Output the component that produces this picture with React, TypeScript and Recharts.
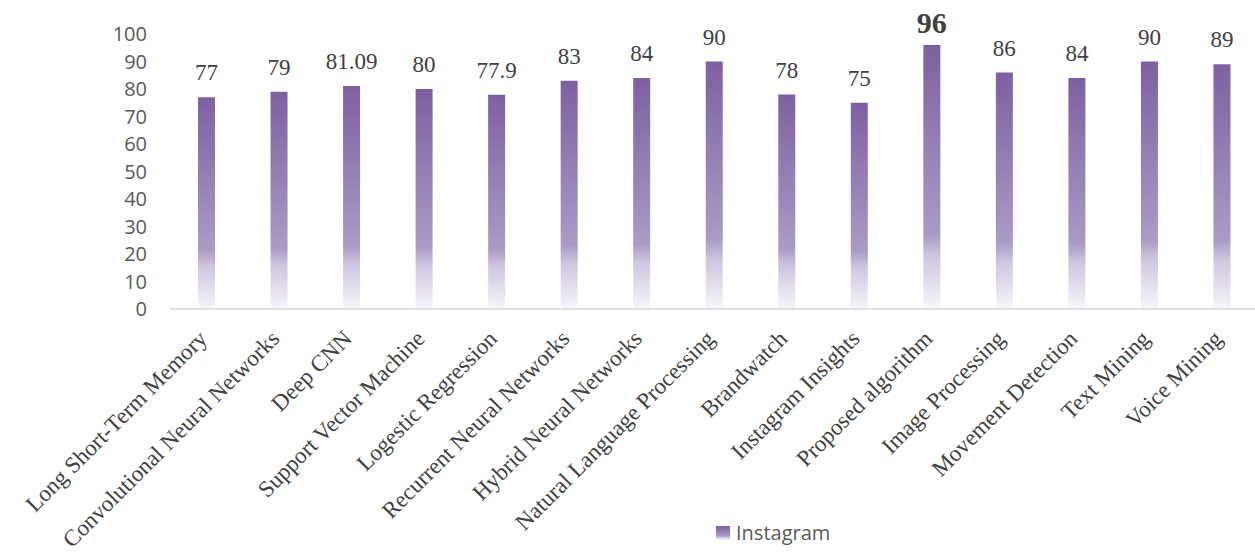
import React from 'react';
import { BarChart, Bar, XAxis, YAxis, LabelList, Legend } from 'recharts';

const categories = [
  'Long Short-Term Memory',
  'Convolutional Neural Networks',
  'Deep CNN',
  'Support Vector Machine',
  'Logestic Regression',
  'Recurrent Neural Networks',
  'Hybrid Neural Networks',
  'Natural Language Processing',
  'Brandwatch',
  'Instagram Insights',
  'Proposed algorithm',
  'Image Processing',
  'Movement Detection',
  'Text Mining',
  'Voice Mining',
];
const instagramValues = [77, 79, 81.09, 80, 77.9, 83, 84, 90, 78, 75, 96, 86, 84, 90, 89];
const yTicks = [0, 10, 20, 30, 40, 50, 60, 70, 80, 90, 100];
const seriesName = 'Instagram';

const data = categories.map((name, i) => ({ name, value: instagramValues[i] }));
const maxValue = Math.max(...instagramValues);

const SERIF = "'Liberation Serif', 'Times New Roman', serif";
const SANS = "'Open Sans', sans-serif";

const XTick = (props: any) => {
  const { x, y, payload } = props;
  const ax = x + 2;
  const ay = y + 31;
  return (
    <text
      x={ax}
      y={ay}
      transform={`rotate(-45, ${ax}, ${ay})`}
      textAnchor="end"
      style={{ fontFamily: SERIF, fontSize: 23 }}
      fill="#404040"
    >
      {payload.value}
    </text>
  );
};

const ValueLabel = (props: any) => {
  const { x, y, width, value } = props;
  const hi = Number(value) === maxValue;
  return (
    <text
      x={Number(x) + Number(width) / 2}
      y={Number(y) - (hi ? 12 : 17)}
      textAnchor="middle"
      style={{ fontFamily: SERIF, fontSize: hi ? 30 : 23, fontWeight: hi ? 'bold' : 'normal' }}
      fill="#404040"
    >
      {value}
    </text>
  );
};

const LegendContent = () => (
  <div style={{ display: 'flex', alignItems: 'center', fontFamily: SANS, fontSize: 20, color: '#595959', lineHeight: '24px' }}>
    <svg width={14} height={14} style={{ marginRight: 6 }}>
      <rect x={0} y={0} width={14} height={14} fill="url(#instaGrad)" />
    </svg>
    <span>{seriesName}</span>
  </div>
);

export default function App() {
  return (
    <div style={{ position: 'fixed', left: 0, top: 0, width: 1255, height: 553, overflow: 'hidden', background: '#fff' }}>
      <BarChart width={1258} height={553} data={data} margin={{ top: 34, right: 0, bottom: 0, left: 0 }}>
        <defs>
          <linearGradient id="instaGrad" x1="0" y1="0" x2="0" y2="1">
            <stop offset="0" stopColor="#7d60a1" />
            <stop offset="0.72" stopColor="#aa9bc6" />
            <stop offset="0.8" stopColor="#cfc6df" />
            <stop offset="1" stopColor="#f7f5fa" />
          </linearGradient>
        </defs>
        <XAxis
          dataKey="name"
          interval={0}
          height={244}
          tickLine={false}
          tickSize={0}
          tickMargin={0}
          axisLine={{ stroke: '#d9d9d9', strokeWidth: 1.5 }}
          tick={<XTick />}
        />
        <YAxis
          domain={[0, 100]}
          ticks={yTicks}
          interval={0}
          width={170}
          axisLine={false}
          tickLine={false}
          tickSize={0}
          tickMargin={23}
          tick={{ fontFamily: SANS, fontSize: 20, fill: '#595959' }}
        />
        <Legend
          verticalAlign="middle"
          align="center"
          layout="horizontal"
          content={<LegendContent />}
          wrapperStyle={{ top: 521, left: 716, width: 'auto' }}
        />
        <Bar dataKey="value" name={seriesName} fill="url(#instaGrad)" barSize={17} isAnimationActive={false}>
          <LabelList dataKey="value" content={<ValueLabel />} />
        </Bar>
      </BarChart>
    </div>
  );
}
